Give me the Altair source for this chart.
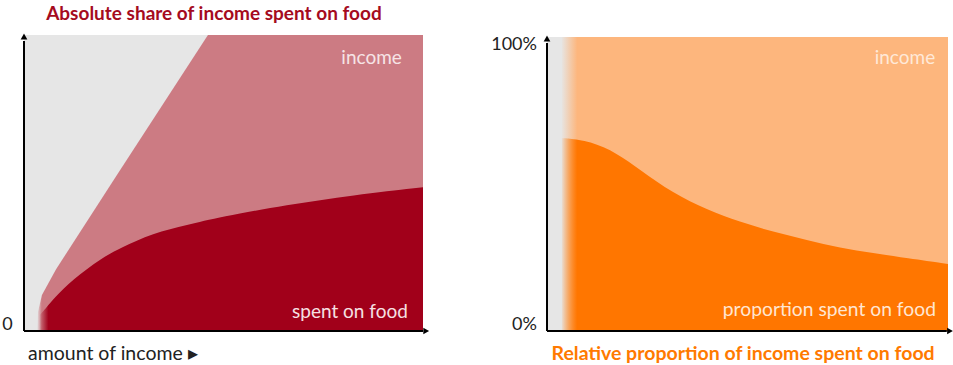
import altair as alt
import pandas as pd

# ---------------- data ----------------
# Left panel: absolute amounts (arbitrary units 0-100)
income_x = [3.3, 3.5, 4.5, 8.0, 24.1, 46.1, 100]
income_y = [0, 6.4, 12.2, 20.8, 54.4, 100, 100]
food_x = [4.0, 4.5, 7.8, 12.0, 19.5, 24.1, 32.3, 40.9, 49.1, 65.9, 82.5, 100]
food_y = [5.5, 6.1, 11.5, 17.2, 24.7, 28.0, 33.1, 35.8, 38.5, 42.6, 45.9, 48.6]

# Right panel: relative proportion (percent)
rel_income_x = [3.7, 100]
rel_income_y = [100, 100]
share_x = [3.7, 5.0, 10.7, 17.5, 23.2, 31.4, 39.9, 48.1, 56.4, 64.8, 73.1, 81.3, 89.8, 100]
share_y = [65.6, 65.6, 64.6, 60.5, 54.8, 46.9, 41.2, 37.1, 33.7, 31.0, 28.2, 26.5, 24.8, 22.8]

titles = ["Absolute share of income spent on food",
          "Relative proportion of income spent on food"]
area_labels = ["income", "spent on food", "income", "proportion spent on food"]
axis_labels = ["0", "amount of income \u25B8", "0%", "100%"]

# ---------------- layout ----------------
FONT = "Lato"
LX = alt.Scale(domain=[0, 100], range=[24, 423], nice=False, zero=False)
LY = alt.Scale(domain=[0, 100], range=[331, 35], nice=False, zero=False)
RX = alt.Scale(domain=[0, 100], range=[547, 948], nice=False, zero=False)
RY = alt.Scale(domain=[0, 100], range=[331, 37], nice=False, zero=False)


def grad(r, g, b, end):
    return alt.Gradient(
        gradient="linear", x1=0, x2=1, y1=0, y2=0,
        stops=[alt.GradientStop(offset=0, color=f"rgba({r},{g},{b},0.05)"),
               alt.GradientStop(offset=end, color=f"rgb({r},{g},{b})"),
               alt.GradientStop(offset=1, color=f"rgb({r},{g},{b})")])


def area(xs, ys, sx, sy, color, interp):
    df = pd.DataFrame({"x": xs, "y": ys})
    return alt.Chart(df).mark_area(interpolate=interp, color=color).encode(
        x=alt.X("x:Q", scale=sx, axis=None),
        y=alt.Y("y:Q", scale=sy, axis=None),
        y2=alt.Y2(datum=0),
    )


def bg(sx, sy):
    return alt.Chart(pd.DataFrame({"a": [0]})).mark_rect(color="#e6e6e6").encode(
        x=alt.X(datum=0, scale=sx, axis=None), x2=alt.X2(datum=100),
        y=alt.Y(datum=0, scale=sy, axis=None), y2=alt.Y2(datum=100))


def label(text, x, y, sx, sy, color, size=19, align="right", weight="normal"):
    return alt.Chart(pd.DataFrame({"t": [text]})).mark_text(
        align=align, baseline="middle", font=FONT, fontSize=size,
        fontWeight=weight, color=color).encode(
        x=alt.X(datum=x, scale=sx, axis=None),
        y=alt.Y(datum=y, scale=sy, axis=None),
        text="t:N")


def axes(sx, sy, xtip):
    one = pd.DataFrame({"a": [0]})
    yline = alt.Chart(one).mark_rule(color="black", strokeWidth=2).encode(
        x=alt.X(datum=0, scale=sx, axis=None),
        y=alt.Y(datum=0, scale=sy, axis=None), y2=alt.Y2(datum=98))
    xline = alt.Chart(one).mark_rule(color="black", strokeWidth=2).encode(
        x=alt.X(datum=0, scale=sx, axis=None), x2=alt.X2(datum=xtip - 0.8),
        y=alt.Y(datum=0, scale=sy, axis=None))
    up = alt.Chart(one).mark_point(shape="triangle-up", filled=True, size=45,
                                   color="black", opacity=1).encode(
        x=alt.X(datum=0, scale=sx, axis=None),
        y=alt.Y(datum=99.5, scale=sy, axis=None))
    right = alt.Chart(one).mark_point(shape="triangle-right", filled=True, size=45,
                                      color="black", opacity=1).encode(
        x=alt.X(datum=xtip, scale=sx, axis=None),
        y=alt.Y(datum=0, scale=sy, axis=None))
    return [yline, xline, up, right]


layers = [
    # left panel
    bg(LX, LY),
    area(income_x, income_y, LX, LY, grad(204, 123, 131, 0.012), "linear"),
    area(food_x, food_y, LX, LY, grad(161, 0, 26, 0.022), "basis"),
    label(area_labels[0], 94.7, 92.2, LX, LY, "#f6e4e6"),
    label(area_labels[1], 96.2, 6.4, LX, LY, "#f6e0e3"),
    label(axis_labels[0], -2.8, 2.0, LX, LY, "#222222", size=18),
    label(axis_labels[1], 1.0, -7.8, LX, LY, "#222222", size=19.5, align="left"),
    label(titles[0], 47.6, 107.1, LX, LY, "#a50b1e", size=19, align="center", weight="bold"),
    *axes(LX, LY, 100.8),
    # right panel
    bg(RX, RY),
    area(rel_income_x, rel_income_y, RX, RY, grad(253, 182, 125, 0.04), "linear"),
    area(share_x, share_y, RX, RY, grad(255, 118, 0, 0.04), "basis"),
    label(area_labels[2], 96.8, 92.9, RX, RY, "#ffe9d8"),
    label(area_labels[3], 97.0, 7.1, RX, RY, "#ffe6d2", size=19.3),
    label(axis_labels[2], -2.5, 2.0, RX, RY, "#222222", size=18),
    label(axis_labels[3], -2.5, 97.3, RX, RY, "#222222", size=18),
    label(titles[1], 48.9, -7.8, RX, RY, "#ff7a00", size=19.5, align="center", weight="bold"),
    *axes(RX, RY, 100.5),
]

chart = alt.layer(*layers).resolve_scale(
    x="independent", y="independent"
).properties(
    width=953, height=365,
    autosize=alt.AutoSizeParams(type="none"),
    padding=0,
    background="white",
).configure_view(stroke=None)

chart.save("out.html", embed_options={"renderer": "svg", "actions": False})
